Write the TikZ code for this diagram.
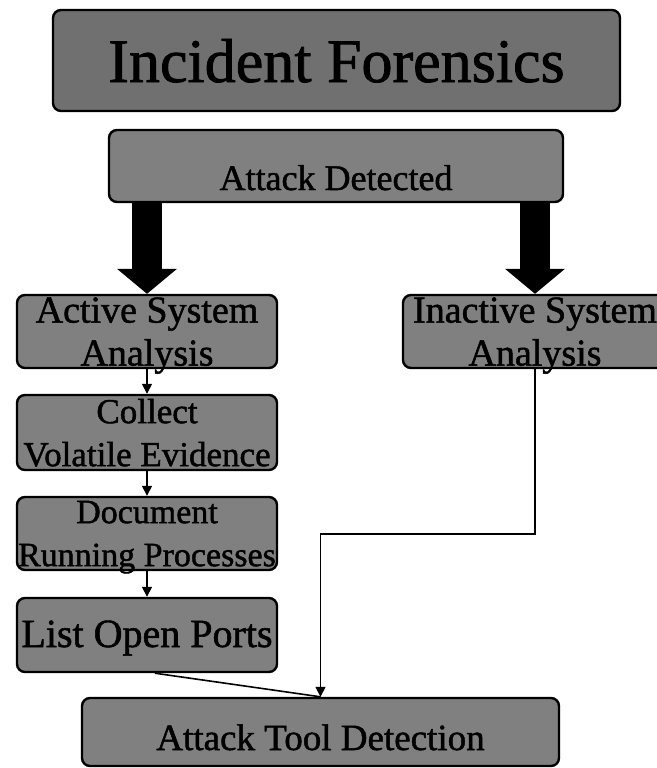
\documentclass[tikz,border=0pt]{standalone}
\usepackage{fontspec}
\setmainfont{Liberation Serif}[FakeBold=1.3]
\usetikzlibrary{arrows.meta}
\begin{document}
\begin{tikzpicture}[x=1pt,y=-1pt,
  panel/.style={draw=black, line width=2.4pt, rounded corners=8pt, fill=black!50,
    inner sep=0pt, align=center, text=black},
  conn/.style={line width=1.6pt, -{Triangle[width=10pt,length=10pt]}},
  bigarrow/.style={line width=30pt, -{Triangle[width=60pt,length=25pt,line width=0pt]}},
]
\fill[white] (0,0) rectangle (656,768);
\useasboundingbox (0,0) rectangle (656,768);

\node[panel, fill=black!56, minimum width=567pt, minimum height=101pt,
  text height=43pt, text depth=0pt, font=\fontsize{62}{62}\selectfont]
  (title) at (336.5,60.5) {Incident Forensics};

\node[panel, minimum width=454pt, minimum height=72pt,
  text height=48pt, text depth=0pt, font=\fontsize{36}{36}\selectfont]
  (detected) at (336,166) {Attack Detected};

\node[panel, minimum width=260pt, minimum height=73pt, text depth=0pt,
  font=\fontsize{38}{43}\selectfont]
  (active) at (147,331.5) {Active System\\Analysis};

\node[panel, minimum width=264pt, minimum height=73pt, text depth=0pt,
  font=\fontsize{38}{43}\selectfont]
  (inactive) at (535,331.5) {Inactive System\\Analysis};

\node[panel, minimum width=260pt, minimum height=75pt, text depth=0pt,
  font=\fontsize{35}{43}\selectfont]
  (collect) at (147,432.5) {Collect\\Volatile Evidence};

\node[panel, minimum width=260pt, minimum height=73pt, text depth=0pt,
  font=\fontsize{34}{43}\selectfont]
  (document) at (147,533.5) {Document\\Running Processes};

\node[panel, minimum width=260pt, minimum height=74pt,
  text height=24pt, text depth=0pt, font=\fontsize{40}{40}\selectfont]
  (ports) at (147,635) {List Open Ports};

\node[panel, minimum width=477pt, minimum height=68pt,
  text height=36pt, text depth=0pt, font=\fontsize{37}{37}\selectfont]
  (tool) at (320.5,732) {Attack Tool Detection};

\draw[bigarrow] (detected.south -| active) -- (active.north);
\draw[bigarrow] (detected.south -| inactive) -- (inactive.north);

\draw[conn] (active.south) -- (collect.north);
\draw[conn] (collect.south) -- (document.north);
\draw[conn] (document.south) -- (ports.north);

\coordinate (bend) at (535,534);
\draw[line width=1.6pt] ([xshift=8pt]ports.south) -- (tool.north);
\draw[conn] (inactive.south) -- (bend) -| (tool.north);
\end{tikzpicture}
\end{document}
